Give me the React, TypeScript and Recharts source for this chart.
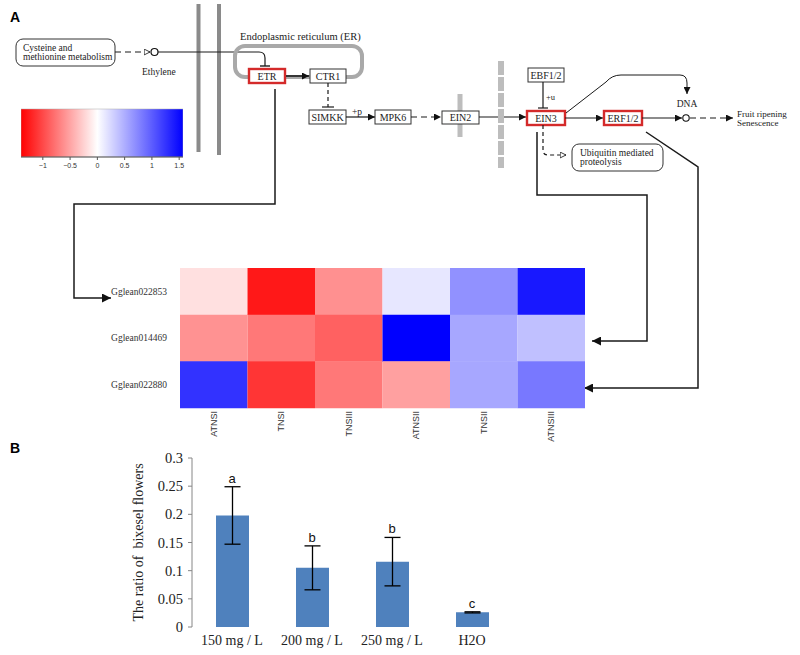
import React from 'react';
import {
  BarChart,
  Bar,
  Cell,
  ComposedChart,
  XAxis,
  YAxis,
  ErrorBar,
  Scatter,
  Label,
} from 'recharts';

// Heatmap (panel A)
const SAMPLES = ['ATNSI', 'TNSI', 'TNSIII', 'ATNSII', 'TNSII', 'ATNSIII'];
const GENES = ['Gglean022853', 'Gglean014469', 'Gglean022880'];
const EXPR_022853 = [-0.17, -1.27, -0.61, 0.15, 0.68, 1.42];
const EXPR_014469 = [-0.6, -0.74, -0.87, 1.57, 0.54, 0.39];
const EXPR_022880 = [1.26, -1.11, -0.74, -0.52, 0.54, 0.83];
const EXPR = [EXPR_022853, EXPR_014469, EXPR_022880];

// colour key
const COLOR_MIN = -1.4;
const COLOR_MAX = 1.57;
const KEY_TICKS = [-1, -0.5, 0, 0.5, 1, 1.5];

// Bar chart (panel B)
const DOSES = ['150 mg / L', '200 mg / L', '250 mg / L', 'H2O'];
const RATIO = [0.198, 0.105, 0.116, 0.026];
const RATIO_SD = [0.051, 0.039, 0.043, 0.001];
const GROUPS = ['a', 'b', 'b', 'c'];
const RATIO_TICKS = [0, 0.05, 0.1, 0.15, 0.2, 0.25, 0.3];

const heat = (v: number) => {
  if (v < 0) {
    const c = Math.round(255 * (1 - Math.min(1, v / COLOR_MIN)));
    return `rgb(255,${c},${c})`;
  }
  const c = Math.round(255 * (1 - Math.min(1, v / COLOR_MAX)));
  return `rgb(${c},${c},255)`;
};

const heatRows = GENES.map((gene) => {
  const row: Record<string, string | number> = { gene };
  SAMPLES.forEach((s) => (row[s] = 1));
  return row;
});

const keyData = [{ name: 'key', range: [COLOR_MIN, COLOR_MAX] }];

const barData = DOSES.map((dose, i) => ({
  dose,
  ratio: RATIO[i],
  sd: RATIO_SD[i],
  top: RATIO[i] + RATIO_SD[i],
  group: GROUPS[i],
}));

const SERIF = '"Liberation Serif", "Times New Roman", serif';
const SANS = '"Liberation Sans", Arial, sans-serif';

function Box({ x, y, w, h, label, red }: { x: number; y: number; w: number; h: number; label: string; red?: boolean }) {
  return (
    <g>
      <rect x={x} y={y} width={w} height={h} fill="#fff" stroke={red ? '#d42a2a' : '#333'} strokeWidth={red ? 2.4 : 1} />
      <text x={x + w / 2} y={y + h - 3.5} textAnchor="middle" fontSize={10} fontFamily={SERIF} fill="#222">
        {label}
      </text>
    </g>
  );
}

function Pathway() {
  const ln = { stroke: '#1a1a1a', strokeWidth: 1.2, fill: 'none' };
  const txt = { fontSize: 9.5, fontFamily: SERIF, fill: '#222' };
  return (
    <svg width={800} height={655} style={{ position: 'absolute', left: 0, top: 0 }}>
      <defs>
        <marker id="arr" viewBox="0 0 10 10" refX="10" refY="5" markerWidth="8" markerHeight="7" markerUnits="userSpaceOnUse" orient="auto">
          <path d="M0,0 L10,5 L0,10 z" fill="#111" />
        </marker>
        <marker id="arrOpen" viewBox="0 0 12 12" refX="11" refY="6" markerWidth="7" markerHeight="7" markerUnits="userSpaceOnUse" orient="auto">
          <path d="M1,1 L11,6 L1,11 z" fill="#fff" stroke="#111" strokeWidth="1.4" />
        </marker>
        <marker id="arrBig" viewBox="0 0 10 10" refX="10" refY="5" markerWidth="10" markerHeight="9" markerUnits="userSpaceOnUse" orient="auto">
          <path d="M0,0 L10,5 L0,10 z" fill="#111" />
        </marker>
      </defs>

      <text x={10} y={22} fontSize={14} fontWeight="bold" fontFamily={SANS}>A</text>
      <text x={10} y={453} fontSize={14} fontWeight="bold" fontFamily={SANS}>B</text>

      {/* cell membrane */}
      <line x1={198.5} y1={4} x2={198.5} y2={152} stroke="#8a8a8a" strokeWidth={4} />
      <line x1={219} y1={4} x2={219} y2={155} stroke="#8a8a8a" strokeWidth={4} />

      {/* ethylene input */}
      <rect x={16} y={39} width={99} height={27} rx={7} fill="#fff" stroke="#333" strokeWidth={1} />
      <text x={23} y={51} {...txt}>Cysteine and</text>
      <text x={23} y={60} {...txt}>methionine metabolism</text>
      <line x1={115} y1={52} x2={150} y2={52} {...ln} strokeDasharray="6 4" markerEnd="url(#arrOpen)" />
      <circle cx={154.5} cy={52} r={3.5} fill="#fff" stroke="#111" strokeWidth={1.2} />
      <text x={142} y={75} {...txt}>Ethylene</text>
      <path d="M158,52 L259,52 Q265,52 265,58 L265,66" {...ln} />
      <line x1={260} y1={66} x2={270} y2={66} {...ln} strokeWidth={1.4} />

      {/* ER */}
      <text x={240} y={40} {...txt} fontSize={10.5}>Endoplasmic reticulum (ER)</text>
      <rect x={235} y={46} width={127} height={31} rx={10} fill="none" stroke="#a9a9a9" strokeWidth={4} />

      <Box x={249} y={69} w={36} h={14} label="ETR" red />
      <Box x={310} y={69} w={36} h={14} label="CTR1" />
      <line x1={286} y1={76} x2={309} y2={76} {...ln} strokeWidth={1.6} markerEnd="url(#arr)" />
      <line x1={328} y1={83} x2={328} y2={107} {...ln} strokeDasharray="4 3" />
      <line x1={322} y1={107} x2={334} y2={107} {...ln} />

      <Box x={309} y={110} w={37} h={14} label="SIMKK" />
      <text x={352} y={115} {...txt}>+p</text>
      <line x1={346} y1={117} x2={375} y2={117} {...ln} markerEnd="url(#arr)" />
      <Box x={375} y={110} w={36} h={14} label="MPK6" />
      <line x1={411} y1={117} x2={441} y2={117} {...ln} strokeDasharray="6 4" markerEnd="url(#arr)" />

      <line x1={460} y1={94} x2={460} y2={137} stroke="#bdbdbd" strokeWidth={5} />
      <Box x={442} y={111} w={37} h={13} label="EIN2" />
      <line x1={479} y1={117} x2={526} y2={117} {...ln} markerEnd="url(#arr)" />
      <line x1={501} y1={61} x2={501} y2={168} stroke="#bdbdbd" strokeWidth={6} strokeDasharray="14 2" />

      <Box x={528} y={68} w={36} h={14} label="EBF1/2" />
      <line x1={543} y1={82} x2={543} y2={108} {...ln} />
      <line x1={538} y1={108} x2={548} y2={108} {...ln} />
      <text x={546} y={100} {...txt} fontSize={8.5}>+u</text>

      <Box x={527} y={111} w={38} h={14} label="EIN3" red />
      <line x1={565} y1={118} x2={603} y2={118} {...ln} markerEnd="url(#arr)" />
      <Box x={604} y={111} w={38} h={14} label="ERF1/2" red />
      <line x1={642} y1={118} x2={682} y2={118} {...ln} markerEnd="url(#arr)" />
      <circle cx={686} cy={118} r={3.2} fill="#fff" stroke="#111" strokeWidth={1.1} />
      <text x={687} y={107} {...txt} textAnchor="middle">DNA</text>
      <line x1={690} y1={118} x2={733} y2={118} {...ln} strokeDasharray="6 4" markerEnd="url(#arr)" />
      <text x={737} y={117} {...txt} fontSize={9}>Fruit ripening</text>
      <text x={737} y={126} {...txt} fontSize={9}>Senescence</text>
      <path d="M566,113 L606,82 Q612,75 621,75 L680,75 Q687,75 687,83 L687,94" {...ln} strokeWidth={1} markerEnd="url(#arr)" />

      <path d="M543,125 L543,150 Q543,155 548,155 L566,155" {...ln} strokeDasharray="4 3" markerEnd="url(#arrOpen)" />
      <rect x={572} y={144} width={91} height={27} rx={7} fill="#fff" stroke="#333" strokeWidth={1} />
      <text x={580} y={156} {...txt}>Ubiquitin mediated</text>
      <text x={580} y={165} {...txt}>proteolysis</text>

      {/* links to heatmap rows */}
      <path d="M275,89 L275,204 L74,204 L74,298 L111,298" {...ln} strokeWidth={1.5} markerEnd="url(#arrBig)" />
      <path d="M537,132 L537,195 L647,195 L647,341 L592,341" {...ln} strokeWidth={1.5} markerEnd="url(#arrBig)" />
      <path d="M646,132 L698,167 L698,388 L584,388" {...ln} strokeWidth={1.5} markerEnd="url(#arrBig)" />
    </svg>
  );
}

function ColumnTick(props: any) {
  const { x, y, payload } = props;
  const name = SAMPLES[Math.floor(payload.value)];
  return (
    <text
      x={x}
      y={y}
      transform={`rotate(-90, ${x}, ${y})`}
      textAnchor="end"
      dominantBaseline="central"
      fontSize={9}
      fontFamily={SANS}
      fill="#333"
    >
      {name}
    </text>
  );
}

function LetterShape(props: any) {
  const { cx, cy, payload } = props;
  return (
    <text x={cx} y={cy - 4} textAnchor="middle" fontSize={13} fontFamily={SANS} fill="#111">
      {payload.group}
    </text>
  );
}

function YTitle(props: any) {
  const { viewBox } = props;
  const x = viewBox.x + 38;
  const y = viewBox.y + viewBox.height / 2;
  return (
    <text
      x={x}
      y={y}
      transform={`rotate(-90, ${x}, ${y})`}
      textAnchor="middle"
      dominantBaseline="central"
      fontSize={14}
      fontFamily={SERIF}
      fill="#222"
      style={{ whiteSpace: 'pre' }}
    >
      The ratio of  bixesel flowers
    </text>
  );
}

export default function App() {
  return (
    <div style={{ position: 'absolute', left: 0, top: 0, width: 800, height: 655, background: '#fff', overflow: 'hidden' }}>
      <Pathway />

      {/* colour key */}
      <div style={{ position: 'absolute', left: 0, top: 100 }}>
        <svg width={0} height={0} style={{ position: 'absolute' }}>
          <defs>
            <linearGradient id="keyGrad" x1="0" x2="1" y1="0" y2="0">
              <stop offset="0" stopColor="#ff0000" />
              <stop offset={String(-COLOR_MIN / (COLOR_MAX - COLOR_MIN))} stopColor="#ffffff" />
              <stop offset="1" stopColor="#0000ff" />
            </linearGradient>
          </defs>
        </svg>
        <BarChart
          layout="vertical"
          width={200}
          height={80}
          data={keyData}
          margin={{ top: 9, right: 17, bottom: 0, left: 21 }}
          barCategoryGap={0}
        >
          <XAxis
            type="number"
            domain={[COLOR_MIN, COLOR_MAX]}
            ticks={KEY_TICKS}
            allowDataOverflow
            height={23}
            tickSize={3}
            tickMargin={3}
            stroke="#555"
            tick={{ fontSize: 7, fontFamily: SANS, fill: '#333' }}
            tickFormatter={(v: number) => (v < 0 ? `\u2212${Math.abs(v)}` : String(v))}
          />
          <YAxis hide type="category" dataKey="name" />
          <Bar dataKey="range" fill="url(#keyGrad)" stroke="#aaa" strokeWidth={0.5} isAnimationActive={false} />
        </BarChart>
      </div>

      {/* heatmap */}
      <div style={{ position: 'absolute', left: 0, top: 258 }}>
        <BarChart
          layout="vertical"
          width={600}
          height={200}
          data={heatRows}
          margin={{ top: 10, right: 15, bottom: 10, left: 0 }}
          barCategoryGap={0}
          barGap={0}
        >
          <XAxis
            type="number"
            domain={[0, SAMPLES.length]}
            ticks={SAMPLES.map((_, i) => i + 0.5)}
            height={40}
            axisLine={false}
            tickLine={false}
            tickSize={0}
            tickMargin={3}
            tick={<ColumnTick />}
            interval={0}
          />
          <YAxis
            type="category"
            dataKey="gene"
            width={180}
            axisLine={false}
            tickLine={false}
            tickSize={0}
            tickMargin={13}
            tick={{ fontSize: 9.5, fontFamily: SERIF, fill: '#333' }}
          />
          {SAMPLES.map((s, j) => (
            <Bar key={s} dataKey={s} stackId="heat" isAnimationActive={false}>
              {heatRows.map((_, i) => (
                <Cell key={i} fill={heat(EXPR[i][j])} />
              ))}
            </Bar>
          ))}
        </BarChart>
      </div>

      {/* panel B */}
      <div style={{ position: 'absolute', left: 100, top: 440 }}>
        <ComposedChart width={430} height={215} data={barData} margin={{ top: 18, right: 18, bottom: 0, left: 0 }}>
          <XAxis
            xAxisId="edge"
            type="number"
            domain={[0, DOSES.length]}
            ticks={DOSES.map((_, i) => i).concat(DOSES.length)}
            allowDataOverflow
            height={0}
            tick={false}
            tickSize={5}
            stroke="#868686"
          />
          <XAxis
            xAxisId="cat"
            dataKey="dose"
            height={28}
            axisLine={false}
            tickLine={false}
            tickSize={6}
            tickMargin={2}
            interval={0}
            tick={{ fontSize: 14, fontFamily: SERIF, fill: '#222' }}
          />
          <YAxis
            width={92}
            type="number"
            domain={[0, 0.3]}
            ticks={RATIO_TICKS}
            tickSize={4}
            tickMargin={5}
            stroke="#868686"
            tick={{ fontSize: 14.5, fontFamily: SERIF, fill: '#222' }}
            tickFormatter={(v: number) => String(v)}
          >
            <Label content={<YTitle />} />
          </YAxis>
          <Bar xAxisId="cat" dataKey="ratio" fill="#4f81bd" barSize={33} isAnimationActive={false}>
            <ErrorBar dataKey="sd" width={8} stroke="#000" strokeWidth={1.3} />
          </Bar>
          <Scatter xAxisId="cat" dataKey="top" shape={<LetterShape />} isAnimationActive={false} />
        </ComposedChart>
      </div>
    </div>
  );
}
